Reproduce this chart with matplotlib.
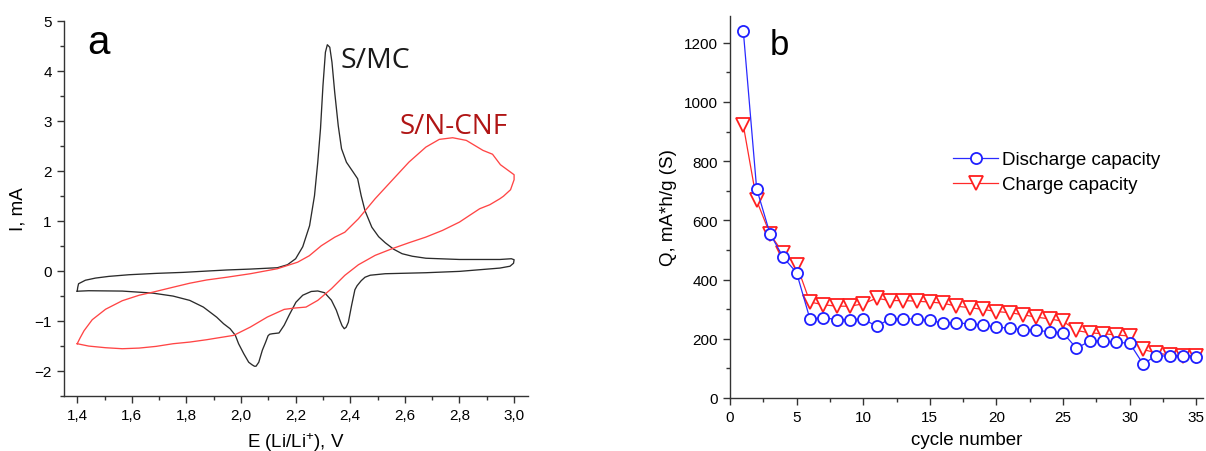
import matplotlib
matplotlib.use("Agg")
import matplotlib.pyplot as plt
from matplotlib.ticker import MultipleLocator, FixedLocator, FixedFormatter

# ---------------- data: panel a (cyclic voltammograms) ----------------
smc_E = [1.40, 1.402, 1.405, 1.43, 1.467, 1.516, 1.59, 1.689, 1.788, 1.874, 1.948,
         2.034, 2.133, 2.17, 2.20, 2.226, 2.251, 2.269, 2.281, 2.291, 2.30, 2.309,
         2.316, 2.325, 2.333, 2.343, 2.356, 2.368, 2.386, 2.411, 2.427, 2.44, 2.454,
         2.479, 2.504, 2.528, 2.559, 2.59, 2.627, 2.677, 2.80, 2.948, 2.99, 3.0,
         2.998, 2.985, 2.948, 2.80, 2.677, 2.528, 2.473, 2.454, 2.44, 2.425, 2.417,
         2.405, 2.393, 2.385, 2.378, 2.37, 2.362, 2.349, 2.331, 2.306, 2.281, 2.257,
         2.226, 2.201, 2.176, 2.158, 2.139, 2.115, 2.105, 2.099, 2.09, 2.078, 2.065,
         2.055, 2.049, 2.04, 2.028, 2.01, 1.991, 1.979, 1.96, 1.936, 1.911, 1.899,
         1.862, 1.812, 1.751, 1.676, 1.565, 1.442, 1.40]
smc_I = [-0.41, -0.33, -0.26, -0.19, -0.147, -0.113, -0.08, -0.053, -0.033, -0.007, 0.015,
         0.033, 0.06, 0.12, 0.24, 0.48, 0.90, 1.50, 2.17, 2.84, 3.70, 4.37,
         4.52, 4.47, 4.17, 3.57, 2.90, 2.44, 2.17, 1.97, 1.84, 1.50, 1.20,
         0.87, 0.68, 0.56, 0.43, 0.34, 0.29, 0.25, 0.225, 0.225, 0.24, 0.22,
         0.15, 0.09, 0.053, -0.013, -0.04, -0.06, -0.09, -0.13, -0.20, -0.30, -0.38,
         -0.69, -1.03, -1.13, -1.16, -1.10, -0.99, -0.79, -0.59, -0.44, -0.405, -0.415,
         -0.49, -0.63, -0.89, -1.09, -1.245, -1.26, -1.27, -1.30, -1.43, -1.59, -1.83,
         -1.91, -1.91, -1.88, -1.83, -1.66, -1.46, -1.29, -1.16, -1.06, -0.93, -0.88,
         -0.727, -0.593, -0.507, -0.447, -0.407, -0.40, -0.41]

ncnf_E = [1.40, 1.41, 1.425, 1.455, 1.504, 1.565, 1.627, 1.676, 1.751, 1.812, 1.874,
          1.948, 2.034, 2.133, 2.207, 2.25, 2.294, 2.343, 2.38, 2.43, 2.491, 2.553,
          2.615, 2.677, 2.726, 2.775, 2.825, 2.886, 2.921, 2.95, 3.0, 3.0, 2.987,
          2.961, 2.948, 2.911, 2.874, 2.837, 2.80, 2.738, 2.677, 2.615, 2.553, 2.491,
          2.43, 2.38, 2.331, 2.281, 2.238, 2.195, 2.158, 2.096, 2.034, 1.973, 1.911,
          1.874, 1.812, 1.751, 1.689, 1.627, 1.565, 1.504, 1.442, 1.40]
ncnf_I = [-1.46, -1.35, -1.20, -0.98, -0.77, -0.60, -0.49, -0.43, -0.33, -0.25, -0.185,
          -0.13, -0.06, 0.04, 0.17, 0.30, 0.50, 0.67, 0.77, 1.04, 1.44, 1.807,
          2.173, 2.473, 2.627, 2.66, 2.607, 2.407, 2.33, 2.12, 1.92, 1.82, 1.62,
          1.49, 1.44, 1.32, 1.24, 1.107, 0.973, 0.807, 0.673, 0.56, 0.44, 0.307,
          0.12, -0.093, -0.36, -0.593, -0.727, -0.747, -0.773, -0.927, -1.127, -1.293, -1.347,
          -1.38, -1.427, -1.46, -1.513, -1.547, -1.56, -1.54, -1.507, -1.46]

# ---------------- data: panel b (capacity vs cycle) ----------------
cycles = list(range(1, 36))
discharge = [1239, 707, 555, 475, 423, 267, 271, 265, 265, 267, 242, 267, 267, 267, 262,
             253, 254, 250, 247, 239, 236, 231, 228, 224, 220, 168, 192, 192, 188, 185,
             115, 143, 141, 141, 138]
charge = [921, 667, 554, 489, 450, 324, 315, 310, 310, 318, 337, 329, 329, 327, 324,
          320, 310, 305, 299, 292, 288, 281, 273, 267, 259, 228, 220, 217, 213, 209,
          164, 152, 145, 143, 143]

a_xticks = [1.4, 1.6, 1.8, 2.0, 2.2, 2.4, 2.6, 2.8, 3.0]
a_xticklabels = ["1,4", "1,6", "1,8", "2,0", "2,2", "2,4", "2,6", "2,8", "3,0"]
a_yticks = [-2, -1, 0, 1, 2, 3, 4, 5]
b_xticks = [0, 5, 10, 15, 20, 25, 30, 35]
b_yticks = [0, 200, 400, 600, 800, 1000, 1200]

# ---------------- styling ----------------
plt.rcParams["font.family"] = ["Liberation Sans", "DejaVu Sans"]
plt.rcParams["mathtext.fontset"] = "custom"
plt.rcParams["mathtext.rm"] = "Liberation Sans"
plt.rcParams["mathtext.it"] = "Liberation Sans:italic"
spine_c = "#333333"

fig = plt.figure(figsize=(12.06, 4.52), dpi=100)
axa = fig.add_axes([0.0527, 0.1223, 0.3849, 0.8296])
axb = fig.add_axes([0.6053, 0.1173, 0.3922, 0.8450])

for ax in (axa, axb):
    for s in ("top", "right"):
        ax.spines[s].set_visible(False)
    for s in ("left", "bottom"):
        ax.spines[s].set_color(spine_c)
        ax.spines[s].set_linewidth(1.0)
    ax.tick_params(which="major", direction="out", length=5, width=1.0,
                   color=spine_c, labelsize=11, pad=3.5)
    ax.tick_params(which="minor", direction="out", length=3, width=1.0, color=spine_c)

# ---- panel a ----
axa.plot(smc_E, smc_I, color="#2b2b2b", lw=0.95)
axa.plot(ncnf_E, ncnf_I, color="#ff4545", lw=0.95)
axa.set_xlim(1.35, 3.05)
axa.set_ylim(-2.5, 5.0)
axa.xaxis.set_major_locator(FixedLocator(a_xticks))
axa.xaxis.set_major_formatter(FixedFormatter(a_xticklabels))
axa.xaxis.set_minor_locator(MultipleLocator(0.1))
axa.yaxis.set_major_locator(FixedLocator(a_yticks))
axa.yaxis.set_minor_locator(MultipleLocator(0.5))
axa.set_xlabel("E (Li/Li$^{+}$), V", fontsize=13.5, labelpad=6)
axa.set_ylabel("I, mA", fontsize=13.5, labelpad=6)
axa.text(1.435, 4.35, "a", fontsize=29, color="black")
axa.text(2.365, 4.07, "S/MC", fontsize=20.5, color="#1a1a1a",
         family=["Open Sans", "DejaVu Sans"])
axa.text(2.579, 2.75, "S/N-CNF", fontsize=20, color="#b01515",
         family=["Open Sans", "DejaVu Sans"])

# ---- panel b ----
axb.plot(cycles, discharge, color="#2a2aff", lw=0.9, marker="o", markersize=8,
         markerfacecolor="white", markeredgecolor="#1f1fff", markeredgewidth=1.3,
         label="Discharge capacity", zorder=3)
axb.plot(cycles, charge, color="#ff2a2a", lw=0.9, marker="v", markersize=9.5,
         markerfacecolor="white", markeredgecolor="#ff1f1f", markeredgewidth=1.3,
         label="Charge capacity", zorder=2)
axb.set_xlim(0, 35.5)
axb.set_ylim(0, 1290)
axb.xaxis.set_major_locator(FixedLocator(b_xticks))
axb.xaxis.set_minor_locator(MultipleLocator(2.5))
axb.yaxis.set_major_locator(FixedLocator(b_yticks))
axb.yaxis.set_minor_locator(MultipleLocator(100))
axb.set_xlabel("cycle number", fontsize=13.5, labelpad=5)
axb.set_ylabel("Q, mA*h/g (S)", fontsize=13.5, labelpad=5)
axb.text(2.95, 1163, "b", fontsize=25, color="black")
axb.legend(loc="upper left", bbox_to_anchor=(0.472, 0.646), frameon=False,
           fontsize=13.5, handlelength=2.4, handletextpad=0.2, labelspacing=0.42,
           borderpad=0, borderaxespad=0, numpoints=1)

fig.savefig("out.png", dpi=100)
